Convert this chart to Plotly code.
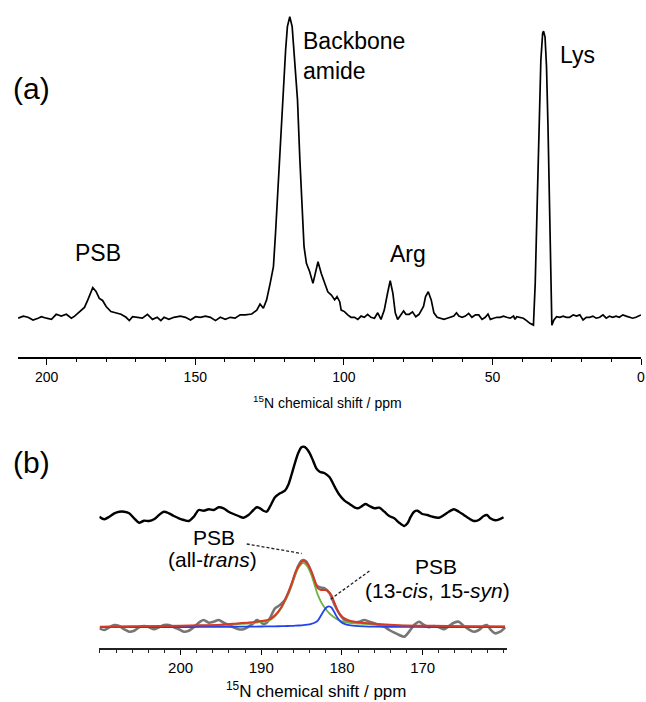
import plotly.graph_objects as go

# ---------------- (a) full 15N CP-MAS spectrum ----------------
top_shift = [209.6, 207.9, 206.3, 204.6, 202.9, 201.8, 200.1, 198.4, 196.8, 195.1,
             193.4, 191.7, 190.6, 189.0, 187.3, 186.2, 184.5, 183.4, 182.3, 181.2,
             180.0, 178.4, 176.7, 175.0, 173.3, 172.2, 171.1, 169.5, 167.8, 166.1,
             164.4, 162.8, 161.6, 160.5, 158.9, 157.2, 155.0, 153.3, 151.6, 149.9,
             148.3, 146.6, 144.9, 143.2, 141.6, 139.9, 138.2, 136.6, 134.9, 133.2,
             131.0, 129.3, 128.2, 127.1, 126.0, 124.8, 123.7, 123.0, 122.1, 121.2,
             120.3, 119.6, 119.0, 118.2, 117.4, 116.5, 115.6, 114.8, 114.0, 113.4,
             112.6, 111.5, 110.4, 109.6, 108.7, 107.6, 106.5, 105.4, 104.2, 103.1,
             102.3, 101.4, 100.9, 99.8, 98.7, 97.6, 96.4, 95.3, 94.2, 93.1,
             92.0, 90.9, 89.7, 88.6, 87.5, 86.4, 85.3, 84.4, 83.5, 82.7,
             81.9, 80.8, 79.9, 79.1, 78.0, 76.9, 75.8, 74.7, 73.2, 72.5,
             71.6, 70.6, 69.7, 68.6, 67.5, 66.3, 65.2, 64.1, 63.0, 62.1,
             61.3, 60.2, 59.1, 58.0, 56.9, 55.7, 54.6, 53.5, 52.4, 51.5,
             50.7, 49.6, 48.5, 47.4, 46.3, 45.2, 44.0, 42.9, 42.4, 41.8,
             40.7, 39.6, 38.5, 37.4, 36.2, 35.6, 34.9, 34.2, 33.7, 33.1,
             32.8, 32.3, 31.8, 31.3, 30.9, 30.4, 30.0, 29.3, 28.4, 27.3,
             26.2, 25.1, 24.0, 22.8, 21.7, 20.6, 19.5, 18.4, 17.3, 16.2,
             15.1, 13.9, 12.8, 11.7, 10.6, 9.5, 8.4, 7.3, 6.1, 5.0,
             3.9, 2.8, 1.7, 0.0]
top_intensity = [-0.4, 0.3, -0.1, -1.0, -0.4, 0.1, -0.4, -0.8, 0.9, 0.3,
                 0.9, -0.4, 0.3, 1.7, 3.2, 5.6, 9.8, 8.5, 6.2, 5.5,
                 3.5, 1.8, 1.3, 0.9, -0.1, -1.2, 0.1, -0.1, -0.4, 0.9,
                 -0.8, -0.1, -1.2, -0.1, -0.8, -0.1, 0.3, -0.1, -1.0, 0.1,
                 -0.1, 0.3, -0.1, -1.2, -0.1, -0.8, -0.1, -0.4, 0.7, 0.7,
                 1.0, 2.3, 4.3, 2.9, 5.7, 11.2, 16.8, 27.9, 44.5, 63.4,
                 77.8, 88.9, 96.7, 100.0, 96.7, 85.6, 72.3, 52.3, 34.5, 23.4,
                 17.9, 15.1, 11.2, 14.6, 18.4, 14.5, 11.2, 8.4, 7.3, 5.7,
                 6.8, 5.1, 2.3, 1.8, 0.7, -0.1, -0.1, -0.8, 0.3, -0.1,
                 0.9, -0.1, -0.4, 1.4, -0.8, 2.3, 7.9, 12.1, 7.9, 1.4,
                 -0.8, 0.9, 2.0, 0.9, 0.9, 1.7, 0.1, 0.9, 3.5, 6.8,
                 8.4, 5.7, 1.4, -0.1, -0.4, -0.8, -0.4, -0.1, 0.3, 1.4,
                 0.3, -0.1, 0.3, 1.2, -0.1, 0.7, 0.7, -0.8, -0.1, 1.0,
                 -0.8, -0.4, -0.1, -0.1, 0.3, -0.1, -0.4, 0.3, -0.8, 0.1,
                 -0.1, -0.4, -1.2, -2.1, -2.7, 11.2, 39.0, 66.7, 85.6, 94.5,
                 95.2, 93.3, 83.4, 63.4, 39.0, 14.6, -2.7, -1.0, 0.1, -0.1,
                 0.3, -0.1, -0.1, 0.7, 0.3, 0.7, -1.0, -0.1, -0.1, 0.3,
                 -0.4, -0.1, 0.7, -0.4, 0.3, -0.1, 0.3, -0.1, 0.7, 0.3,
                 -0.1, -0.4, -0.1, 0.7]
top_ticks = [200, 150, 100, 50, 0]

# ---------------- (b) PSB region: spectra ----------------
upper_shift = [210.06, 209.45, 208.83, 208.21, 207.60, 206.98, 206.37, 205.75, 205.14, 204.52,
               203.90, 203.29, 202.67, 202.06, 201.44, 200.83, 200.21, 199.59, 198.98, 198.36,
               197.75, 197.13, 196.51, 195.90, 195.28, 194.67, 194.05, 193.44, 192.82, 192.20,
               191.59, 190.97, 190.56, 190.15, 189.74, 189.33, 188.92, 188.30, 187.68, 187.07,
               186.66, 186.26, 185.84, 185.43, 185.02, 184.73, 184.41, 183.99, 183.58, 183.18,
               182.76, 182.14, 181.53, 180.91, 180.30, 179.68, 179.06, 178.45, 178.04, 177.64,
               177.09, 176.60, 175.99, 175.37, 174.75, 174.14, 173.52, 172.91, 172.29, 171.88,
               171.48, 171.06, 170.65, 170.04, 169.42, 168.81, 167.98, 167.36, 166.75, 166.13,
               165.52, 164.90, 164.29, 163.67, 163.05, 162.44, 162.03, 161.62, 161.01, 160.59,
               159.98]
upper_intensity = [-1.7, -4.3, -1.7, 1.7, 3.3, 3.3, 1.7, -3.3, -7.7, -5.7,
                   -6.0, -4.3, 0.0, 3.3, 1.7, -1.0, -3.3, -5.0, -6.0, -1.7,
                   5.0, 4.3, 5.7, 5.0, 7.7, 6.7, 3.3, 1.0, -1.0, -2.7,
                   0.0, 5.0, 7.7, 6.7, 4.3, 3.3, 8.3, 17.7, 21.7, 24.3,
                   30.0, 40.0, 51.7, 61.7, 67.7, 68.3, 66.7, 61.7, 54.3, 46.7,
                   43.3, 41.7, 37.7, 28.3, 20.0, 14.3, 11.0, 7.7, 6.7, 8.3,
                   11.0, 9.0, 6.7, 7.3, 3.3, -1.0, -3.3, -7.7, -11.0, -8.3,
                   -1.7, 3.3, 4.3, 1.0, 0.0, -1.7, -2.7, 0.0, 3.3, 5.7,
                   3.3, 0.0, -3.3, -6.0, -5.0, -1.0, 0.0, -3.3, -5.3, -4.7,
                   -2.3]

lower_shift = [210.06, 209.45, 208.83, 208.21, 207.60, 206.98, 206.37, 205.75, 205.14, 204.52,
               203.90, 203.29, 202.67, 202.06, 201.44, 200.83, 200.21, 199.59, 198.98, 198.36,
               197.75, 197.13, 196.51, 195.90, 195.28, 194.67, 194.05, 193.44, 192.82, 192.20,
               191.59, 190.97, 190.56, 190.15, 189.74, 189.33, 188.92, 188.30, 187.68, 187.07,
               186.46, 185.84, 185.43, 185.02, 184.73, 184.41, 183.99, 183.58, 183.18, 182.76,
               182.14, 181.53, 180.91, 180.30, 179.68, 179.06, 178.45, 177.84, 177.22, 176.60,
               175.99, 175.37, 174.75, 174.14, 173.52, 172.91, 172.29, 171.68, 171.06, 170.45,
               169.83, 169.22, 168.60, 167.98, 167.36, 166.75, 166.13, 165.52, 164.90, 164.29,
               163.67, 163.05, 162.44, 162.03, 161.62, 161.01, 160.39, 159.78]
lower_intensity = [-1.0, -2.7, 0.0, 2.3, 1.3, -2.0, -4.4, -3.4, 0.0, 1.3,
                   0.0, -2.0, 0.0, 2.3, 2.3, 0.0, -2.0, -4.4, -3.4, 0.0,
                   4.6, 7.3, 4.6, 5.6, 7.3, 4.6, 2.3, 0.0, -2.0, -2.0,
                   0.6, 4.0, 7.3, 5.6, 3.3, 4.6, 9.0, 19.0, 22.3, 27.3,
                   38.0, 52.3, 61.3, 66.6, 67.3, 65.6, 59.0, 50.6, 42.3, 40.0,
                   39.0, 34.0, 22.3, 13.3, 7.3, 5.6, 4.6, 5.6, 7.3, 5.6,
                   4.0, 2.3, 0.6, -2.7, -5.4, -7.7, -9.4, -4.4, 2.3, 5.6,
                   2.3, 0.0, 1.3, 0.0, -2.0, 1.3, 4.6, 5.6, 1.3, -2.0,
                   -4.4, -2.7, 1.3, 2.3, -2.0, -6.0, -4.4, 0.0]

# ---------------- (b) deconvolution components ----------------
fit_shift = [210.0, 205.0, 200.0, 197.5, 195.0, 193.5, 191.5, 190.0, 189.0, 188.3,
             187.5, 186.7, 186.2, 185.8, 185.3, 184.8, 184.3, 183.8, 183.4, 183.0,
             182.6, 182.2, 181.9, 181.6, 181.3, 180.9, 180.6, 180.3, 179.9, 179.3,
             178.4, 177.2, 176.0, 173.0, 169.0, 165.0, 159.8]
fit_all_trans = [0.5, 0.8, 1.2, 1.6, 2.2, 3.0, 4.0, 5.4, 7.0, 11.0,
                 19.3, 32.6, 43.0, 52.6, 60.5, 64.5, 61.0, 52.6, 42.5, 32.6,
                 25.5, 20.3, 17.0, 14.2, 12.0, 9.6, 8.0, 6.8, 5.7, 4.8,
                 4.0, 3.4, 2.7, 1.7, 1.2, 0.9, 0.6]
fit_13cis = [0.1, 0.2, 0.3, 0.35, 0.45, 0.55, 0.7, 0.8, 0.9, 1.0,
             1.1, 1.3, 1.45, 1.6, 1.8, 2.1, 2.6, 3.4, 4.5, 6.6,
             11.8, 17.0, 20.0, 21.0, 19.8, 14.3, 10.0, 6.6, 4.2, 2.5,
             1.5, 1.0, 0.75, 0.45, 0.3, 0.2, 0.15]
fit_total = [0.6, 1.0, 1.5, 1.95, 2.65, 3.55, 4.7, 6.2, 7.9, 12.0,
             20.4, 33.9, 44.45, 54.2, 62.3, 66.6, 63.6, 56.0, 47.0, 39.2,
             37.3, 37.3, 37.0, 35.2, 31.8, 23.9, 18.0, 13.4, 9.9, 7.3,
             5.5, 4.4, 3.45, 2.15, 1.5, 1.1, 0.75]
bottom_ticks = [200, 190, 180, 170]

# ---------------- styling ----------------
W, H = 646, 702
FONT = "Liberation Sans, Arial, Helvetica, sans-serif"
UPPER_OFFSET = 112.3     # vertical stacking of the experimental trace in (b)


def fx(px):
    return px / W


def fy(py):
    return 1 - py / H


fig = go.Figure()

fig.add_trace(go.Scatter(x=top_shift, y=top_intensity, xaxis="x", yaxis="y",
                         mode="lines", line=dict(color="black", width=1.7),
                         hoverinfo="skip"))

fig.add_trace(go.Scatter(x=upper_shift, y=[v + UPPER_OFFSET for v in upper_intensity],
                         xaxis="x2", yaxis="y2", mode="lines",
                         line=dict(color="black", width=2.4, shape="spline", smoothing=0.8),
                         hoverinfo="skip"))
fig.add_trace(go.Scatter(x=lower_shift, y=lower_intensity, xaxis="x2", yaxis="y2",
                         mode="lines",
                         line=dict(color="#767676", width=2.6, shape="spline", smoothing=0.8),
                         hoverinfo="skip"))
fig.add_trace(go.Scatter(x=fit_shift, y=fit_all_trans, xaxis="x2", yaxis="y2",
                         mode="lines",
                         line=dict(color="#6cb33f", width=1.8, shape="spline", smoothing=0.7),
                         hoverinfo="skip"))
fig.add_trace(go.Scatter(x=fit_shift, y=fit_13cis, xaxis="x2", yaxis="y2",
                         mode="lines",
                         line=dict(color="#2343f0", width=1.8, shape="spline", smoothing=0.7),
                         hoverinfo="skip"))
fig.add_trace(go.Scatter(x=fit_shift, y=fit_total, xaxis="x2", yaxis="y2",
                         mode="lines",
                         line=dict(color="#d63a26", width=2.0, shape="spline", smoothing=0.7),
                         hoverinfo="skip"))

axis_common = dict(showline=True, linecolor="black", showgrid=False, zeroline=False,
                   ticks="outside", tickcolor="black", mirror=False,
                   ticklabeloverflow="allow",
                   tickfont=dict(family=FONT, color="black"))

fig.update_layout(
    width=W, height=H,
    margin=dict(l=0, r=0, t=0, b=0),
    paper_bgcolor="white", plot_bgcolor="white",
    showlegend=False,
    xaxis=dict(axis_common, domain=[fx(18), fx(645)], range=[209.7, 0], anchor="y",
               linewidth=1.5, ticklen=6, tickwidth=1.3, tickvals=top_ticks,
               tickfont=dict(family=FONT, color="black", size=14),
               minor=dict(dtick=10, tick0=0, ticks="outside", ticklen=3.5,
                          tickwidth=1.1, tickcolor="black", showgrid=False)),
    yaxis=dict(domain=[fy(357), 1], range=[-13.32, 105.56], visible=False),
    xaxis2=dict(axis_common, domain=[fx(100), fx(510)], range=[210.06, 159.57], anchor="y2",
                linewidth=2, linecolor="#222", ticklen=5, tickwidth=1.3, tickvals=bottom_ticks,
                tickfont=dict(family=FONT, color="black", size=15),
                minor=dict(dtick=2, tick0=0, ticks="outside", ticklen=3,
                           tickwidth=1.1, tickcolor="#222", showgrid=False)),
    yaxis2=dict(domain=[fy(648), fy(430)], range=[-20.7, 197.3], visible=False),
)

# axis titles
fig.add_annotation(text="<sup>15</sup>N chemical shift / ppm", xref="paper", yref="paper",
                   x=fx(330), y=fy(402), xanchor="center", yanchor="middle", showarrow=False,
                   font=dict(family=FONT, size=14, color="black"))
fig.add_annotation(text="<sup>15</sup>N chemical shift / ppm", xref="paper", yref="paper",
                   x=fx(318), y=fy(690), xanchor="center", yanchor="middle", showarrow=False,
                   font=dict(family=FONT, size=17, color="black"))

# panel letters
for letter, py in (("(a)", 88), ("(b)", 462)):
    fig.add_annotation(text=letter, xref="paper", yref="paper", x=fx(11), y=fy(py),
                       xanchor="left", yanchor="middle", showarrow=False,
                       font=dict(family=FONT, size=30, color="black"))

# peak labels, panel (a)
big = dict(family=FONT, size=23, color="black")
fig.add_annotation(text="PSB", xref="x", yref="y", x=182.6, y=21.3, showarrow=False,
                   xanchor="center", yanchor="middle", font=big)
fig.add_annotation(text="Backbone<br>amide", xref="x", yref="y", x=114.4, y=86.9,
                   showarrow=False, xanchor="left", yanchor="middle", align="left", font=big)
fig.add_annotation(text="Arg", xref="x", yref="y", x=78.3, y=21.0, showarrow=False,
                   xanchor="center", yanchor="middle", font=big)
fig.add_annotation(text="Lys", xref="x", yref="y", x=27.8, y=87.2, showarrow=False,
                   xanchor="left", yanchor="middle", font=big)

# peak labels, panel (b)
mid = dict(family=FONT, size=21, color="black")
fig.add_annotation(text="PSB", xref="x2", yref="y2", x=195.9, y=89.8, showarrow=False,
                   xanchor="center", yanchor="middle", font=mid)
fig.add_annotation(text="(all-<i>trans</i>)", xref="x2", yref="y2", x=196.0, y=67.6,
                   showarrow=False, xanchor="center", yanchor="middle", font=mid)
fig.add_annotation(text="PSB", xref="x2", yref="y2", x=168.3, y=61.3, showarrow=False,
                   xanchor="center", yanchor="middle", font=mid)
fig.add_annotation(text="(13-<i>cis</i>, 15-<i>syn</i>)", xref="x2", yref="y2", x=168.2,
                   y=37.3, showarrow=False, xanchor="center", yanchor="middle", font=mid)

# dashed leader lines to the two PSB components
leader = dict(color="#222", width=1.3, dash="3px,2px")
fig.add_shape(type="line", xref="x2", yref="y2", x0=191.8, y0=83.3, x1=185.0, y1=73.8,
              line=leader)
fig.add_shape(type="line", xref="x2", yref="y2", x0=176.6, y0=56.3, x1=181.5, y1=27.6,
              line=leader)

fig.write_html("out.html")
